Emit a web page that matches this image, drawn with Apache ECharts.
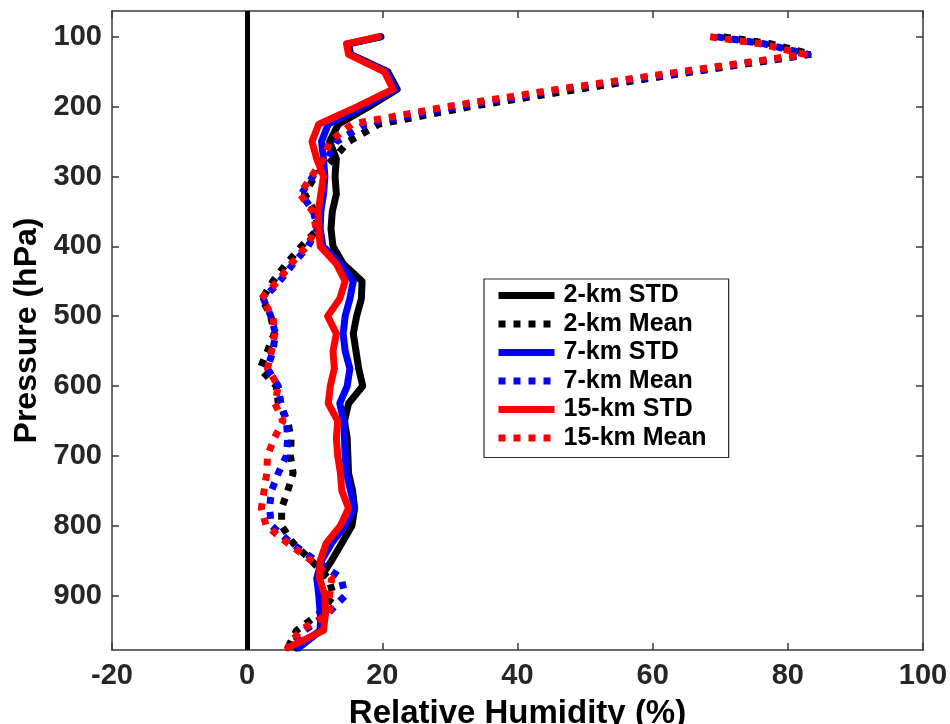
<!DOCTYPE html>
<html>
<head>
<meta charset="utf-8">
<script src="https://cdn.jsdelivr.net/npm/echarts@6/dist/echarts.min.js"></script>
<style>html,body{margin:0;padding:0;background:#fff}#c{width:950px;height:724px}</style>
</head>
<body>
<div id="c"></div>
<script>
const pressure = [100,110,125,150,175,200,225,250,275,300,325,350,375,400,425,450,475,500,525,550,575,600,625,650,675,700,725,750,775,800,825,850,875,900,925,950,975];
const std2km  = [19.8,15.0,15.3,20.8,22.2,18.0,13.5,12.2,13.2,13.0,13.2,12.6,12.4,12.7,14.2,17.0,16.9,16.2,15.7,16.1,16.5,17.1,15.0,14.4,14.8,14.9,15.0,15.6,15.9,15.5,14.0,12.5,10.8,10.8,10.9,10.8,7.3];
const mean2km = [70.5,77.5,83.5,66.0,49.0,33.0,19.5,15.0,12.7,10.0,8.5,10.0,10.5,8.0,5.8,3.8,2.2,3.5,4.0,3.0,1.9,4.3,4.6,6.0,6.5,6.4,6.8,6.0,5.1,5.1,6.8,9.5,12.0,12.8,10.8,7.3,6.0];
const std7km  = [19.6,14.9,15.2,20.6,22.0,17.3,12.0,11.0,11.3,11.5,11.3,10.9,10.8,11.2,13.8,15.7,15.2,14.5,14.2,14.5,15.2,14.8,13.7,14.3,14.4,14.5,14.7,15.3,15.9,14.5,12.5,11.0,10.3,10.6,10.8,10.9,7.6];
const mean7km = [69.5,76.5,83.0,65.0,47.0,31.0,17.5,13.2,11.8,9.7,8.0,9.8,10.4,9.0,6.8,4.8,2.4,3.5,4.2,3.8,3.0,4.6,5.0,5.8,6.0,5.8,4.6,3.6,3.3,3.6,6.5,10.2,13.9,14.5,12.0,8.5,6.3];
const std15km = [19.4,14.7,15.0,20.3,21.6,16.3,10.6,9.6,10.3,11.3,10.9,10.5,10.6,10.8,13.2,14.5,13.7,11.9,13.2,12.7,12.9,12.3,12.0,13.4,13.2,13.4,13.8,14.0,15.0,13.8,11.7,10.8,10.7,11.5,11.6,11.3,6.0];
const mean15km= [68.5,76.0,82.5,64.0,46.0,29.5,15.5,12.2,11.3,9.5,7.8,9.7,10.2,8.8,6.5,4.5,2.1,3.8,4.1,3.6,3.0,4.6,4.1,5.3,4.0,3.0,2.9,2.5,2.1,2.8,6.0,9.5,12.5,12.2,12.3,7.8,6.0];
const seriesNames = ['2-km STD','2-km Mean','7-km STD','7-km Mean','15-km STD','15-km Mean'];
const xTicks = [-20,0,20,40,60,80,100];
const yTicks = [100,200,300,400,500,600,700,800,900];

const FONT = 'Liberation Sans, Arial, Helvetica, sans-serif';
const axisColor = '#3a3a3a';
const tickColor = '#262626';
const dash = [7, 8];

function mk(name, vals, color, dotted) {
  return {
    name: name,
    type: 'line',
    data: pressure.map((p, i) => [vals[i], p]),
    symbol: 'none',
    smooth: false,
    lineStyle: dotted
      ? { color: color, width: 7, type: dash, cap: 'butt', join: 'round' }
      : { color: color, width: 7, type: 'solid', cap: 'round', join: 'round' },
    itemStyle: { color: color },
    z: 3
  };
}

const series = [
  mk(seriesNames[0], std2km, '#000000', false),
  mk(seriesNames[1], mean2km, '#000000', true),
  mk(seriesNames[2], std7km, '#0000ff', false),
  mk(seriesNames[3], mean7km, '#0000ff', true),
  mk(seriesNames[4], std15km, '#ff0000', false),
  mk(seriesNames[5], mean15km, '#ff0000', true)
];
series[0].markLine = {
  silent: true, symbol: 'none', label: { show: false },
  lineStyle: { color: '#000', width: 5, type: 'solid' },
  data: [{ xAxis: 0 }]
};

const chart = echarts.init(document.getElementById('c'), null, { renderer: 'canvas' });
chart.setOption({
  animation: false,
  backgroundColor: '#ffffff',
  textStyle: { fontFamily: FONT },
  grid: { left: 112, right: 27, top: 11, bottom: 74, containLabel: false, outerBoundsMode: 'none' },
  legend: {
    orient: 'vertical',
    left: 484, top: 279,
    data: seriesNames,
    itemWidth: 56, itemHeight: 14, itemGap: 3.5,
    padding: [4, 22, 7, 11],
    backgroundColor: '#ffffff',
    borderColor: '#2a2a2a', borderWidth: 1.2,
    itemStyle: { opacity: 0 },
    lineStyle: { width: 7, cap: 'butt' },
    textStyle: { fontFamily: FONT, fontSize: 25, fontWeight: 'bold', color: '#000', lineHeight: 25, padding: [0, 0, 0, 4] },
    selectedMode: false
  },
  xAxis: [{
    type: 'value', min: -20, max: 100, interval: 20,
    position: 'bottom',
    name: 'Relative Humidity (%)', nameLocation: 'middle', nameGap: 47,
    nameTextStyle: { fontFamily: FONT, fontSize: 33, fontWeight: 'bold', color: '#000' },
    axisLine: { show: true, onZero: false, lineStyle: { color: axisColor, width: 1.5 } },
    axisTick: { show: true, inside: true, length: 7, lineStyle: { color: axisColor, width: 1.5 } },
    axisLabel: { fontFamily: FONT, fontSize: 29, fontWeight: 'bold', color: tickColor, margin: 11,
      customValues: xTicks },
    splitLine: { show: false }
  }, {
    type: 'value', min: -20, max: 100, interval: 20, position: 'top',
    axisLine: { show: true, onZero: false, lineStyle: { color: axisColor, width: 1.5 } },
    axisTick: { show: true, inside: true, length: 7, lineStyle: { color: axisColor, width: 1.5 } },
    axisLabel: { show: false }, splitLine: { show: false }
  }],
  yAxis: [{
    type: 'value', min: 63, max: 978, inverse: true, position: 'left',
    name: 'Pressure (hPa)', nameLocation: 'middle', nameGap: 66, nameRotate: 90,
    nameTextStyle: { fontFamily: FONT, fontSize: 32, fontWeight: 'bold', color: '#000' },
    axisLine: { show: true, onZero: false, lineStyle: { color: axisColor, width: 1.5 } },
    axisTick: { show: true, inside: true, length: 7, customValues: yTicks, lineStyle: { color: axisColor, width: 1.5 } },
    axisLabel: { fontFamily: FONT, fontSize: 29, fontWeight: 'bold', color: tickColor, margin: 10, customValues: yTicks },
    splitLine: { show: false }
  }, {
    type: 'value', min: 63, max: 978, inverse: true, position: 'right',
    axisLine: { show: true, onZero: false, lineStyle: { color: axisColor, width: 1.5 } },
    axisTick: { show: true, inside: true, length: 7, customValues: yTicks, lineStyle: { color: axisColor, width: 1.5 } },
    axisLabel: { show: false }, splitLine: { show: false }
  }],
  series: series
});
</script>
</body>
</html>
